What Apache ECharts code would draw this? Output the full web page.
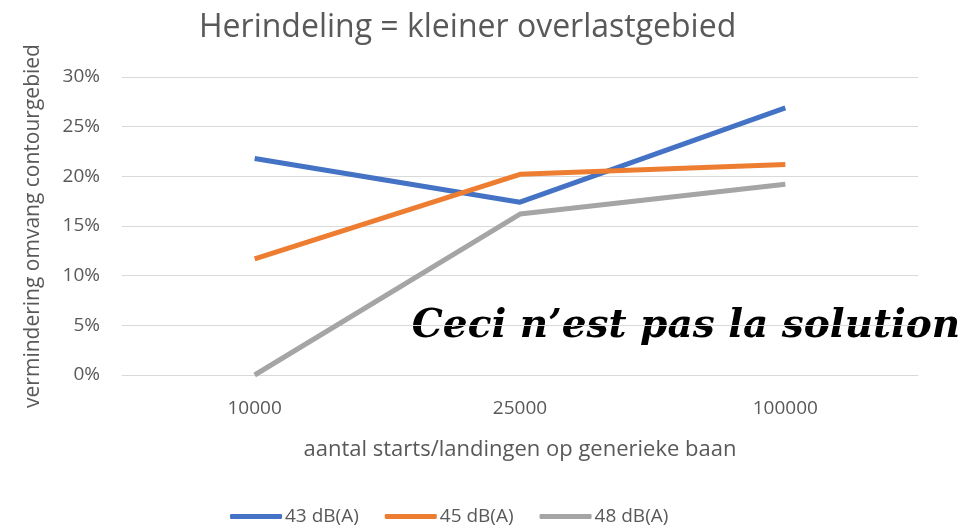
<!DOCTYPE html>
<html>
<head>
<meta charset="utf-8">
<script src="https://cdn.jsdelivr.net/npm/echarts@6/dist/echarts.min.js"></script>
<style>
  html, body { margin: 0; padding: 0; background: #fff; }
  #main { width: 971px; height: 527px; }
</style>
</head>
<body>
<div id="main"></div>
<script>
// categories and series values (percent)
var categories = ['10000', '25000', '100000'];
var db43 = [21.8, 17.4, 26.9];
var db45 = [11.7, 20.2, 21.2];
var db48 = [0, 16.2, 19.2];
var seriesNames = ['43 dB(A)', '45 dB(A)', '48 dB(A)'];

var txt = '#595959';
var fontFam = 'Open Sans, Noto Sans, sans-serif';

var myChart = echarts.init(document.getElementById('main'));
myChart.setOption({
    animation: false,
    color: ['#4472C4', '#ED7D31', '#A5A5A5'],
    title: {
        text: 'Herindeling = kleiner overlastgebied',
        left: 194,
        top: 7,
        textStyle: { fontFamily: fontFam, fontWeight: 'normal', fontSize: 32, color: txt }
    },
    legend: {
        bottom: -4,
        left: 225,
        itemWidth: 52,
        itemHeight: 5,
        itemGap: 26,
        icon: 'roundRect',
        textStyle: { fontFamily: fontFam, fontSize: 19, color: txt, padding: [0, 0, 0, -2] },
        data: seriesNames
    },
    grid: { left: 122, right: 53, top: 77, bottom: 152 },
    xAxis: {
        type: 'category',
        data: categories,
        name: 'aantal starts/landingen op generieke baan',
        nameLocation: 'middle',
        nameGap: 64,
        nameTextStyle: { fontFamily: fontFam, fontSize: 22, color: txt },
        axisLine: { lineStyle: { color: '#D9D9D9' } },
        axisTick: { show: false },
        axisLabel: { fontFamily: fontFam, fontSize: 19, color: txt, margin: 24 }
    },
    yAxis: {
        type: 'value',
        min: 0,
        max: 30,
        interval: 5,
        name: 'vermindering omvang contourgebied',
        nameLocation: 'middle',
        nameGap: 78,
        nameTextStyle: { fontFamily: fontFam, fontSize: 21, color: txt },
        axisLine: { show: false },
        axisTick: { show: false },
        axisLabel: { fontFamily: fontFam, fontSize: 19, color: txt, margin: 22, formatter: '{value}%' },
        splitLine: { lineStyle: { color: '#D9D9D9', width: 1 } }
    },
    series: [
        { name: seriesNames[0], type: 'line', data: db43, symbol: 'none', lineStyle: { width: 5 } },
        { name: seriesNames[1], type: 'line', data: db45, symbol: 'none', lineStyle: { width: 5 } },
        { name: seriesNames[2], type: 'line', data: db48, symbol: 'none', lineStyle: { width: 5 } }
    ],
    graphic: [{
        type: 'group',
        left: 403,
        top: 298,
        z: 100,
        children: [
            { type: 'rect', shape: { x: 0, y: 0, width: 566, height: 58 }, style: { fill: '#fff' } },
            {
                type: 'text',
                x: 283, y: 29,
                style: {
                    text: 'Ceci n\u2019est pas la solution',
                    align: 'center',
                    verticalAlign: 'middle',
                    fontFamily: 'DejaVu Serif, serif',
                    fontStyle: 'italic',
                    fontWeight: 'bold',
                    fontSize: 39,
                    fill: '#000'
                }
            }
        ]
    }]
});
</script>
</body>
</html>
